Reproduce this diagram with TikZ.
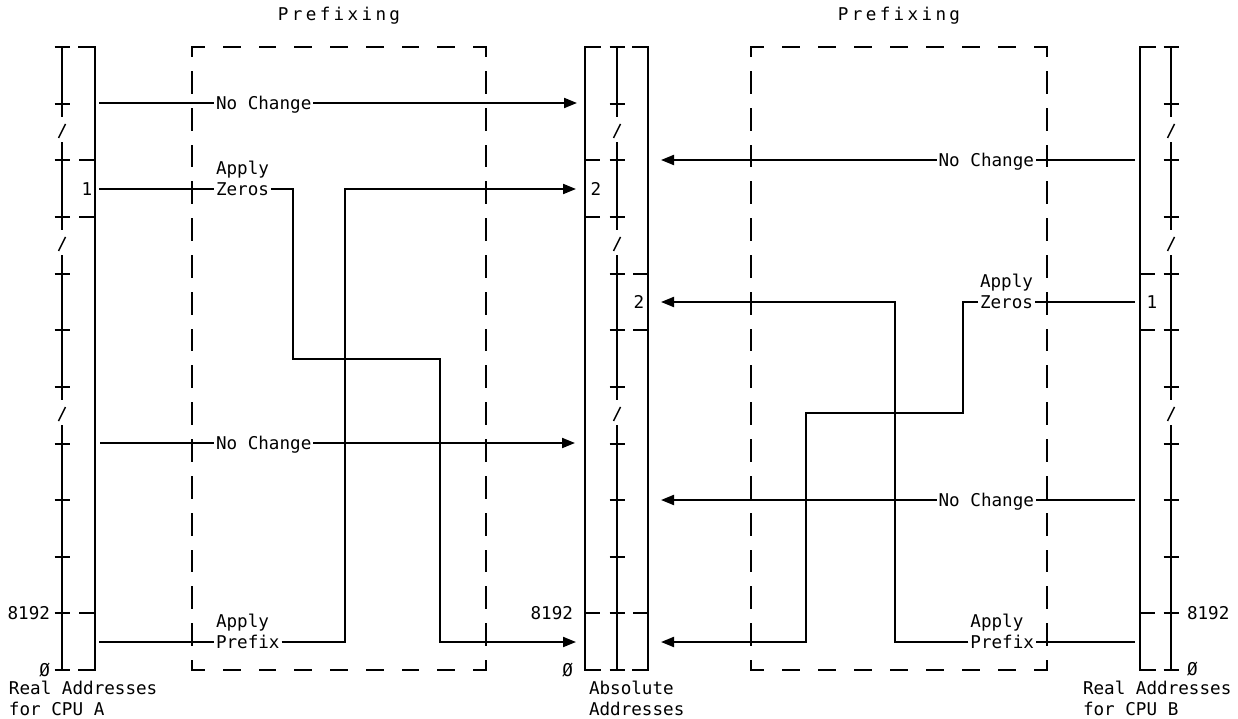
\documentclass[tikz,border=0pt]{standalone}
\usepackage{fontspec}
\newfontfamily\monofnt{DejaVu Sans Mono}
\newfontfamily\titlefnt{DejaVu Sans Mono}[LetterSpace=19]
\usetikzlibrary{arrows.meta}
\newcommand\tickcol[1]{%
  \draw[line cap=rect] (#1,47) -- (#1,116) (#1,143) -- (#1,229) (#1,256) -- (#1,399) (#1,426) -- (#1,670);
  \foreach \yy in {47,104,160,217,274,330,387,444,500,557,613,670}{\draw (#1-7.5,\yy) -- (#1+7.5,\yy);}
  \foreach \m in {132,245,415}{\draw[line width=1.4pt] (#1-3.5,\m+6) -- (#1+3.5,\m-8);}
}
\begin{document}
\begin{tikzpicture}[x=1pt,y=-1pt,line width=2pt,
  txt/.style={font=\monofnt\fontsize{17.6}{21}\selectfont, inner sep=1pt, text height=12.8pt, text depth=0pt},
  ttl/.style={txt, font=\titlefnt\fontsize{17.6}{21}\selectfont},
  arr/.style={-{Triangle[length=13pt,width=10pt]}},
  dh/.style={line cap=rect, dash pattern=on 15.8pt off #1, dash phase=3.9pt},
  dv/.style={line cap=rect, dash pattern=on 20.8pt off 16.02pt, dash phase=11.9pt}]
\useasboundingbox (0,0) rectangle (1238,719);
\fill[white] (0,0) rectangle (1238,719);

% titles
\node[ttl] (pr1) at (339,14) {Prefixing};
\node[ttl] (pr2) at (899,14) {Prefixing};

% dashed boxes
\draw[dh=19.95pt] (192,47) -- (486,47);
\draw[dh=19.95pt] (192,670) -- (486,670);
\draw[dv] (192,47) -- (192,670);
\draw[dv] (486,47) -- (486,670);
\draw[dh=20.2pt] (751,47) -- (1047,47);
\draw[dh=20.2pt] (751,670) -- (1047,670);
\draw[dv] (751,47) -- (751,670);
\draw[dv] (1047,47) -- (1047,670);

% left column (CPU A)
\draw[line cap=rect] (79,47) -- (95,47) -- (95,670) -- (79,670);
\foreach \y in {160,217,613} \draw (79,\y) -- (95,\y);
\tickcol{62}

% middle column (absolute)
\draw[line cap=rect] (600,47) -- (585,47) -- (585,670) -- (600,670);
\draw[line cap=rect] (633,47) -- (648,47) -- (648,670) -- (633,670);
\foreach \y in {160,217,613} \draw (585,\y) -- (600,\y);
\foreach \y in {274,330,613} \draw (633,\y) -- (648,\y);
\tickcol{617}

% right column (CPU B)
\draw[line cap=rect] (1155,47) -- (1140,47) -- (1140,670) -- (1155,670);
\foreach \y in {274,330,613} \draw (1140,\y) -- (1155,\y);
\tickcol{1171}

% column labels
\node[txt] (n1a) at (87,189) {1};
\node[txt] (n2a) at (596,189) {2};
\node[txt] (n2b) at (639,302) {2};
\node[txt] (n1b) at (1152,302) {1};
\node[txt,anchor=east] (k1) at (52,613) {8192};
\node[txt,anchor=east] (o1) at (52,670) {Ø};
\node[txt,anchor=east] (k2) at (575,613) {8192};
\node[txt,anchor=east] (o2) at (575,670) {Ø};
\node[txt,anchor=west] (k3) at (1185,613) {8192};
\node[txt,anchor=west] (o3) at (1185,669) {Ø};
\node[txt,anchor=west] (ra1) at (7,688.5) {Real Addresses};
\node[txt,anchor=west] (ra2) at (7,709) {for CPU A};
\node[txt,anchor=west] (ab1) at (587,688.5) {Absolute};
\node[txt,anchor=west] (ab2) at (587,709) {Addresses};
\node[txt,anchor=west] (rb1) at (1081,688.5) {Real Addresses};
\node[txt,anchor=west] (rb2) at (1081,709) {for CPU B};

% ---- left side connectors
\coordinate (a1) at (99,103);
\coordinate (a2) at (99,189);
\coordinate (a3) at (100,443);
\coordinate (a4) at (99,642);
\coordinate (t1) at (577,103);
\coordinate (t2) at (576,189);
\coordinate (t3) at (575,443);
\coordinate (t4) at (576,642);
\node[txt,anchor=west] (nc1) at (214,103) {No Change};
\node[txt,anchor=west] (z1) at (214,189) {Zeros};
\node[txt,anchor=west] (ap1) at ([yshift=20.5pt]z1.west) {Apply};
\node[txt,anchor=west] (nc2) at (214,443) {No Change};
\node[txt,anchor=west] (p1) at (214,642) {Prefix};
\node[txt,anchor=west] (ap2) at ([yshift=20.5pt]p1.west) {Apply};
\coordinate (za) at (293,189);
\coordinate (zb) at (293,359);
\coordinate (zc) at (440,359);
\coordinate (zd) at (440,642);
\coordinate (pa) at (345,642);
\coordinate (pb) at (345,189);

\draw (a1) -- (nc1);
\draw[arr] (nc1) -- (t1);
\draw (a2) -- (z1);
\draw[arr] (z1.east) -- (za) -- (zb) -- (zc) -- (zd) -- (t4);
\draw (a3) -- (nc2);
\draw[arr] (nc2) -- (t3);
\draw (a4) -- (p1);
\draw[arr] (p1.east) -- (pa) -- (pb) -- (t2);

% ---- right side connectors
\coordinate (b1) at (1135,160);
\coordinate (b2) at (1135,302);
\coordinate (b3) at (1135,500);
\coordinate (b4) at (1135,642);
\coordinate (u1) at (661,160);
\coordinate (u2) at (661,302);
\coordinate (u3) at (661,500);
\coordinate (u4) at (661,642);
\node[txt,anchor=east] (nc3) at (1036,160) {No Change};
\node[txt,anchor=east] (z2) at (1035,302) {Zeros};
\node[txt,anchor=west] (ap3) at ([yshift=20.5pt]z2.west) {Apply};
\node[txt,anchor=east] (nc4) at (1036,500) {No Change};
\node[txt,anchor=east] (p2) at (1036,642) {Prefix};
\node[txt,anchor=west] (ap4) at ([yshift=20.5pt]p2.west) {Apply};
\coordinate (ya) at (963,302);
\coordinate (yb) at (963,413);
\coordinate (yc) at (806,413);
\coordinate (yd) at (806,642);
\coordinate (qa) at (895,642);
\coordinate (qb) at (895,302);

\draw (b1) -- (nc3);
\draw[arr] (nc3) -- (u1);
\draw (b2) -- (z2);
\draw[arr] (z2.west) -- (ya) -- (yb) -- (yc) -- (yd) -- (u4);
\draw (b3) -- (nc4);
\draw[arr] (nc4) -- (u3);
\draw (b4) -- (p2);
\draw[arr] (p2.west) -- (qa) -- (qb) -- (u2);
\end{tikzpicture}
\end{document}
